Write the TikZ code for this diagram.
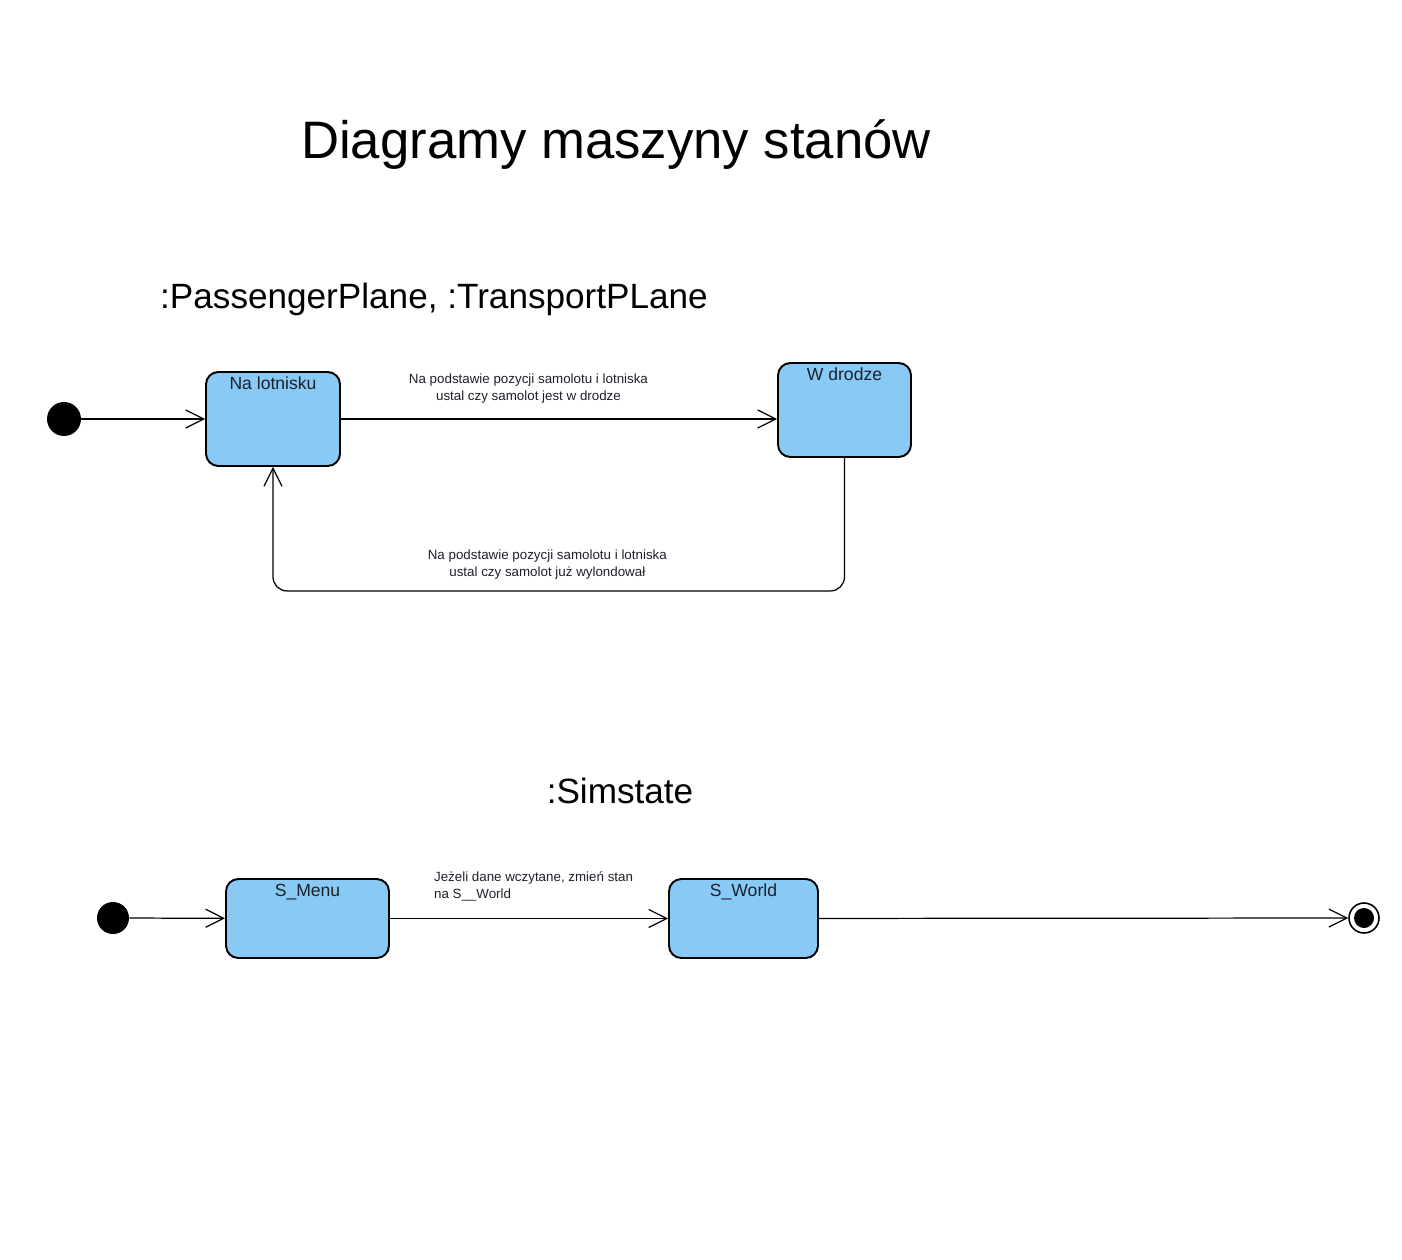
\documentclass[tikz,border=0pt]{standalone}
\usepackage{fontspec}
\setmainfont{Liberation Sans}
\usetikzlibrary{arrows.meta, positioning}
\definecolor{stateblue}{RGB}{136, 201, 246}
\definecolor{textdark}{RGB}{28, 32, 40}

\begin{document}
\begin{tikzpicture}[
  x=0.02cm, y=-0.02cm,
  stan/.style    = {rectangle, rounded corners=7pt, draw=black, line width=1.1pt,
                    fill=stateblue, inner sep=0pt,
                    label={[anchor=north, font=\fontsize{10}{12}\selectfont, text=textdark]north:#1}},
  start/.style   = {circle, fill=black, inner sep=0pt},
  koniec/.style  = {circle, draw=black, line width=0.9pt, minimum size=0.6cm, inner sep=0pt,
                    path picture={\fill[black] (path picture bounding box.center) circle (0.2cm);}},
  arr/.style     = {-{Straight Barb[length=0.36cm, width=0.36cm]}, line width=0.7pt},
  opis/.style    = {font=\fontsize{7.6}{9.7}\selectfont, text=textdark, inner sep=1pt},
  tytul/.style   = {font=\fontsize{20}{24}\selectfont, text=black}
]
\useasboundingbox (0,0) rectangle (1402,1260);

% naglowki
\node[font=\fontsize{30}{36}\selectfont] (title) at (616,145) {Diagramy maszyny stanów};
\node[tytul] (sub1) at (434,299) {:PassengerPlane, :TransportPLane};
\node[tytul] (sub2) at (620,791) {:Simstate};

% samolot
\node[start, minimum size=0.68cm]                          (init1) at (64,419)    {};
\node[stan=Na lotnisku, minimum width=2.68cm, minimum height=1.88cm] (lot) at (273,419) {};
\node[stan=W drodze, minimum width=2.66cm, minimum height=1.88cm]    (wd)  at (844.5,410) {};

\draw[arr] (init1) -- (lot);
\draw[arr] (lot.east) -- (lot.east -| wd.west)
  node[opis, pos=0.43, above=7.5pt, align=center]
  {Na podstawie pozycji samolotu i lotniska\\ustal czy samolot jest w drodze};
\draw[arr, rounded corners=8pt] (wd.south) -- ++(0,133) -| (lot.south)
  node[opis, pos=0.26, above=5.5pt, align=center]
  {Na podstawie pozycji samolotu i lotniska\\ustal czy samolot już wylondował};

% symulacja
\node[start, minimum size=0.64cm]                         (init2) at (113,918)  {};
\node[stan=S\_Menu, minimum width=3.26cm, minimum height=1.58cm]  (menu)  at (307.5,918.5) {};
\node[stan=S\_World, minimum width=2.98cm, minimum height=1.58cm] (world) at (743.5,918.5) {};
\node[koniec]                                             (fin)   at (1364,918) {};

\draw[arr] (init2) -- (menu);
\draw[arr] (menu) -- (world);
\draw[arr] (world) -- (fin);
\node[opis, anchor=west, align=left] (lbl3) at (432,886)
  {Jeżeli dane wczytane, zmień stan\\na S\_\_World};
\end{tikzpicture}
\end{document}
